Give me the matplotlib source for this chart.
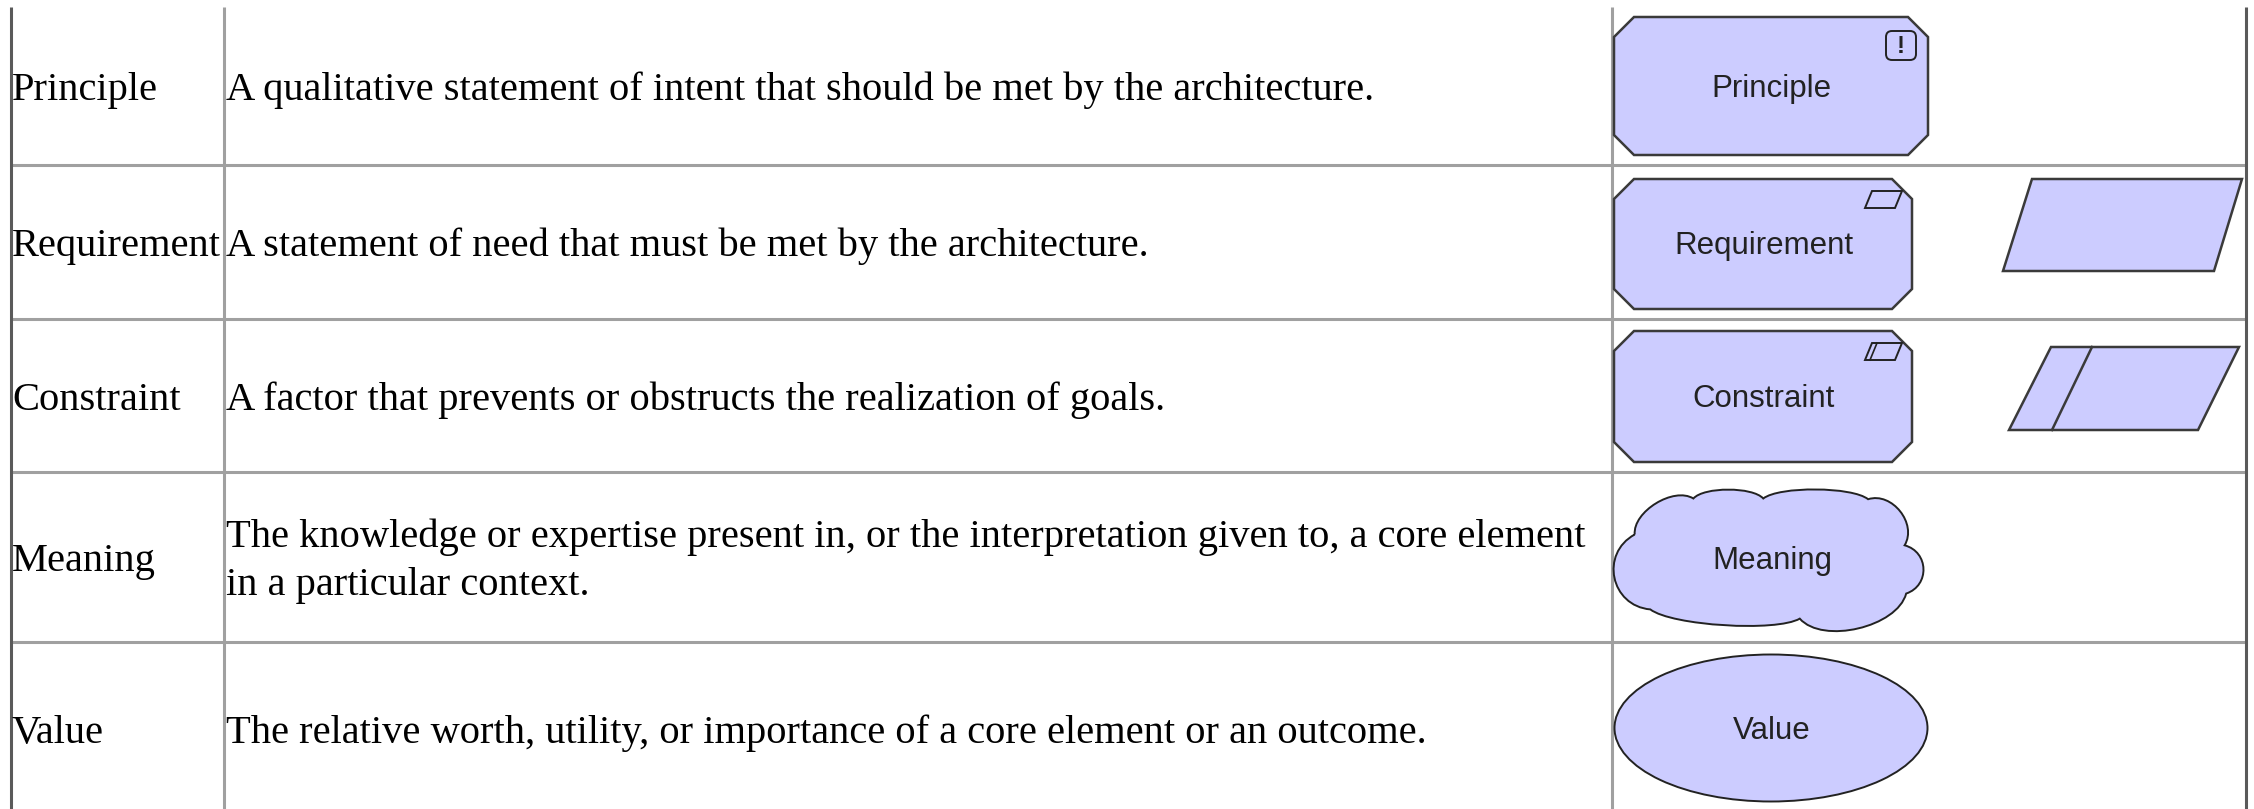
import numpy as np
import matplotlib
matplotlib.use("Agg")
import matplotlib.pyplot as plt
from matplotlib.patches import Polygon, Ellipse, FancyBboxPatch, PathPatch
from matplotlib.path import Path

# Table content
names = ["Principle", "Requirement", "Constraint", "Meaning", "Value"]
descriptions = [
    "A qualitative statement of intent that should be met by the architecture.",
    "A statement of need that must be met by the architecture.",
    "A factor that prevents or obstructs the realization of goals.",
    "The knowledge or expertise present in, or the interpretation given to, a core element\nin a particular context.",
    "The relative worth, utility, or importance of a core element or an outcome.",
]
shape_kinds = ["principle", "requirement", "constraint", "meaning", "value"]

# Layout (pixels, figure is 2254 x 809)
W, H = 2254, 809
row_edges = [7, 165, 319, 472, 642, 815]
col_x = [11, 224, 1612, 2246]
fill = "#ccccff"
edge = "#3a3a3a"
grid_c = "#a0a0a0"
border_c = "#5a5a5a"

fig = plt.figure(figsize=(W / 100, H / 100), dpi=100)
ax = fig.add_axes([0, 0, 1, 1])
ax.set_xlim(0, W)
ax.set_ylim(H, 0)
ax.axis("off")

# grid
for y in row_edges[1:-1]:
    ax.plot([col_x[0], col_x[-1]], [y, y], color=grid_c, lw=2.2, solid_capstyle="butt")
for i, x in enumerate(col_x):
    c = border_c if i in (0, len(col_x) - 1) else grid_c
    ax.plot([x, x], [row_edges[0], H], color=c, lw=2.2, solid_capstyle="butt")

serif = "Liberation Serif"
sans = "Liberation Sans"
fs_table = 29.2
fs_label = 22.5


def octagon(x0, y0, x1, y1, c=20):
    pts = [(x0 + c, y0), (x1 - c, y0), (x1, y0 + c), (x1, y1 - c),
           (x1 - c, y1), (x0 + c, y1), (x0, y1 - c), (x0, y0 + c)]
    ax.add_patch(Polygon(pts, closed=True, fc=fill, ec=edge, lw=1.8, zorder=3))


def label(x, y, s):
    ax.text(x, y, s, family=sans, fontsize=fs_label, color="#222222",
            ha="center", va="baseline", zorder=5)


def cloud(x0, y0, x1, y1):
    # cusps of the cloud outline (normalised) and how far each bump bulges
    cusps = [(0.06, 0.33), (0.248, 0.08), (0.472, 0.08), (0.808, 0.085),
             (0.925, 0.405), (0.93, 0.74), (0.589, 0.914), (0.11, 0.85)]
    bulge = [0.3, 0.17, 0.12, 0.4, 0.5, 0.28, 0.1, 0.5]
    wpx, hpx = x1 - x0, y1 - y0
    P = [np.array([x0 + u * wpx, y0 + v * hpx]) for u, v in cusps]
    ctr = np.array([(x0 + x1) / 2, (y0 + y1) / 2])
    verts = [tuple(P[0])]
    codes = [Path.MOVETO]
    n = len(P)
    for i in range(n):
        a, b = P[i], P[(i + 1) % n]
        d = b - a
        L = np.hypot(*d)
        nrm = np.array([d[1], -d[0]]) / L
        if np.dot(nrm, (a + b) / 2 - ctr) < 0:
            nrm = -nrm
        h = bulge[i] * L
        verts += [tuple(a + 0.15 * d + nrm * h), tuple(a + 0.85 * d + nrm * h), tuple(b)]
        codes += [Path.CURVE4] * 3
    ax.add_patch(PathPatch(Path(verts, codes), fc=fill, ec="#222222", lw=1.4, zorder=3))


for i, (name, desc, kind) in enumerate(zip(names, descriptions, shape_kinds)):
    top, bot = row_edges[i], row_edges[i + 1]
    yc = (top + bot) / 2 if i < len(names) - 1 else 729
    ax.text(col_x[0] + 1, yc + 14, name, family=serif, fontsize=fs_table,
            color="black", ha="left", va="baseline")
    lines = desc.split("\n")
    for k, line in enumerate(lines):
        yb = yc + 14 + (k - (len(lines) - 1) / 2) * 49
        ax.text(col_x[1] + 2, yb, line, family=serif, fontsize=fs_table,
                color="black", ha="left", va="baseline")

    if kind == "principle":
        octagon(1614, 17, 1928, 155)
        ax.add_patch(FancyBboxPatch((1886, 31), 30, 29, boxstyle="round,pad=0,rounding_size=6",
                                    fc="none", ec="#222222", lw=1.4, zorder=4))
        ax.text(1901, 46, "!", family=sans, fontsize=17, fontweight="bold",
                color="#222222", ha="center", va="center", zorder=5)
        label(1771, 97, name)
    elif kind in ("requirement", "constraint"):
        y0 = 179 if kind == "requirement" else 331
        y1 = 309 if kind == "requirement" else 462
        octagon(1614, y0, 1912, y1)
        iy0, iy1 = y0 + 12, y0 + 29
        ax.add_patch(Polygon([(1872, iy0), (1902, iy0), (1895, iy1), (1865, iy1)],
                             closed=True, fc="none", ec="#222222", lw=1.4, zorder=4))
        if kind == "constraint":
            ax.plot([1877, 1870], [iy0, iy1], color="#222222", lw=1.2, zorder=4)
        label(1764, (y0 + y1) / 2 + 10, name)
        if kind == "requirement":
            ax.add_patch(Polygon([(2032, 179), (2242, 179), (2214, 271), (2003, 271)],
                                 closed=True, fc=fill, ec=edge, lw=1.8, zorder=3))
        else:
            ax.add_patch(Polygon([(2051, 347), (2239, 347), (2198, 430), (2009, 430)],
                                 closed=True, fc=fill, ec=edge, lw=1.8, zorder=3))
            ax.plot([2092, 2052], [347, 430], color=edge, lw=1.8, zorder=4)
    elif kind == "meaning":
        cloud(1616, 487, 1928, 631)
        label(1772, 569, name)
    elif kind == "value":
        ax.add_patch(Ellipse((1771, 728), 313, 147, fc=fill, ec="#222222", lw=1.4, zorder=3))
        label(1772, 739, name)

fig.savefig("out.png", dpi=100)
